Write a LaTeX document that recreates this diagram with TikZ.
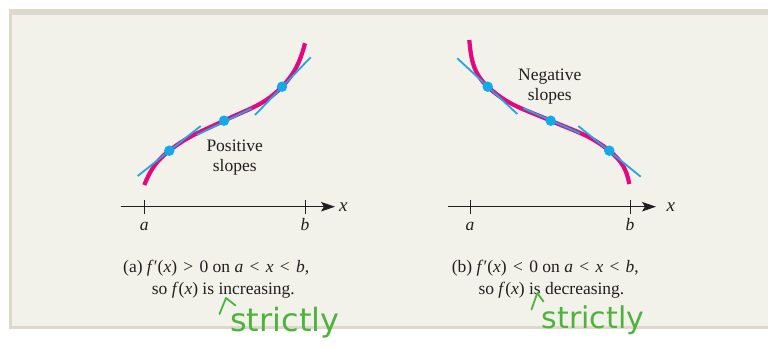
\documentclass[tikz,border=0pt]{standalone}
\usepackage{fontspec}
\setmainfont{Liberation Serif}
\newfontfamily\handfont{DejaVu Sans}
\usetikzlibrary{arrows.meta}
\definecolor{framecol}{HTML}{DCD9CB}
\definecolor{panelcol}{HTML}{F2F1EA}
\definecolor{curvemag}{HTML}{E6077F}
\definecolor{tancyan}{HTML}{1FA8E0}
\definecolor{dotcyan}{HTML}{14A9E8}
\definecolor{ink}{HTML}{231F20}
\definecolor{pen}{HTML}{4DB33D}
\newcommand{\rsp}{\hspace{0.36em}}
\begin{document}
\begin{tikzpicture}[x=1pt,y=1pt,
  fcurve/.style={line width=4.2pt, draw=curvemag},
  tanline/.style={line width=1.8pt, draw=tancyan},
  tdot/.style={circle, fill=dotcyan, inner sep=0pt, minimum size=10.5pt},
  xaxis/.style={line width=0.9pt, draw=ink, -{Stealth[length=14pt,width=9.5pt,inset=3pt]}},
  axtick/.style={line width=0.9pt, draw=ink},
  lbl/.style={font=\fontsize{17.5}{20}\selectfont, text=ink, inner sep=0pt},
  hand/.style={font=\handfont\fontsize{32}{32}\selectfont, text=pen, inner sep=0pt},
  caret/.style={draw=pen, line width=1.8pt, line cap=round, line join=round}
]
\useasboundingbox (0,0) rectangle (768,349);
% panel
\fill[framecol] (9,20) rectangle (768,340);
\fill[panelcol] (12,23) rectangle (768,334);

% ---------- panel (a) ----------
\coordinate (aL) at (144.3,164);
\coordinate (aR) at (305,305.7);
\coordinate (axa0) at (120.7,142.3);
\coordinate (axa1) at (335,142.3);
\draw[xaxis] (axa0) -- (axa1);
\draw[axtick] (144.3,135) -- (144.3,149);
\draw[axtick] (305,135) -- (305,149);
\node[lbl, anchor=base] (la) at (144.3,119) {\textit{a}};
\node[lbl, anchor=base] (lb) at (305,119) {\textit{b}};
\node[lbl, anchor=base west] (lx) at (339,137.5) {\fontsize{19}{20}\selectfont\textit{x}};

\draw[fcurve] (aL) to[out=68,in=218.3] (169.3,198.3)
  to[out=38.3,in=205.9] (224,228.3)
  to[out=25.9,in=226.1] (282,262.3)
  to[out=46.1,in=255] (aR);
\draw[tanline] (137.7,173) -- (200.7,223);
\draw[tanline] (196.7,214) -- (251.7,240.7);
\draw[tanline] (255,234) -- (310.7,291.7);
\node[tdot] (ap1) at (169.3,198.3) {};
\node[tdot] (ap2) at (224,228.3) {};
\node[tdot] (ap3) at (282,262.3) {};
\node[lbl, anchor=base] (pos1) at (234.7,197.3) {Positive};
\node[lbl, anchor=base] (pos2) at (234.7,177.3) {slopes};

\node[lbl, anchor=base west] (capa1) at (123,76.3)
  {(a) \textit{f}′(\textit{x})\rsp>\rsp0 on \textit{a}\rsp<\rsp\textit{x}\rsp<\rsp\textit{b},};
\node[lbl, anchor=base west] (capa2) at (151.7,54.7)
  {so \textit{f}(\textit{x}) is increasing.};

% ---------- panel (b) ----------
\coordinate (bL) at (469.3,309);
\coordinate (bR) at (629.3,165);
\coordinate (axb0) at (448.3,142.3);
\coordinate (axb1) at (656,142.3);
\draw[xaxis] (axb0) -- (axb1);
\draw[axtick] (470,135) -- (470,149);
\draw[axtick] (630,135) -- (630,149);
\node[lbl, anchor=base] (lba) at (470,119) {\textit{a}};
\node[lbl, anchor=base] (lbb) at (630,119) {\textit{b}};
\node[lbl, anchor=base west] (lbx) at (666.5,137.5) {\fontsize{19}{20}\selectfont\textit{x}};

\draw[fcurve] (bL) to[out=-85,in=137.1] (487.7,262.3)
  to[out=-42.9,in=156.3] (550.7,228.3)
  to[out=-23.7,in=141] (609.3,198.3)
  to[out=-39,in=100] (bR);
\draw[tanline] (457.3,290.7) -- (517.3,235);
\draw[tanline] (523.3,240.7) -- (580,215.7);
\draw[tanline] (578.3,223) -- (640.7,172.3);
\node[tdot] (bp1) at (487.7,262.3) {};
\node[tdot] (bp2) at (550.7,228.3) {};
\node[tdot] (bp3) at (609.3,198.3) {};
\node[lbl, anchor=base] (neg1) at (549.7,269) {Negative};
\node[lbl, anchor=base] (neg2) at (549.7,249) {slopes};

\node[lbl, anchor=base west] (capb1) at (451.7,76.3)
  {(b) \textit{f}′(\textit{x})\rsp<\rsp0 on \textit{a}\rsp<\rsp\textit{x}\rsp<\rsp\textit{b},};
\node[lbl, anchor=base west] (capb2) at (478.3,54.7)
  {so \textit{f}(\textit{x}) is decreasing.};

% ---------- handwritten notes ----------
\draw[caret] (219.5,35) -- (226,51) -- (235.5,43.5);
\node[hand, anchor=base west] (stra) at (230,17.3) {strictly};
\draw[caret] (531.5,39.5) -- (537.3,56) -- (543.5,47.5);
\node[hand, anchor=base west, font=\handfont\fontsize{30}{30}\selectfont] (strb) at (541.7,20.7) {strictly};
\end{tikzpicture}
\end{document}
